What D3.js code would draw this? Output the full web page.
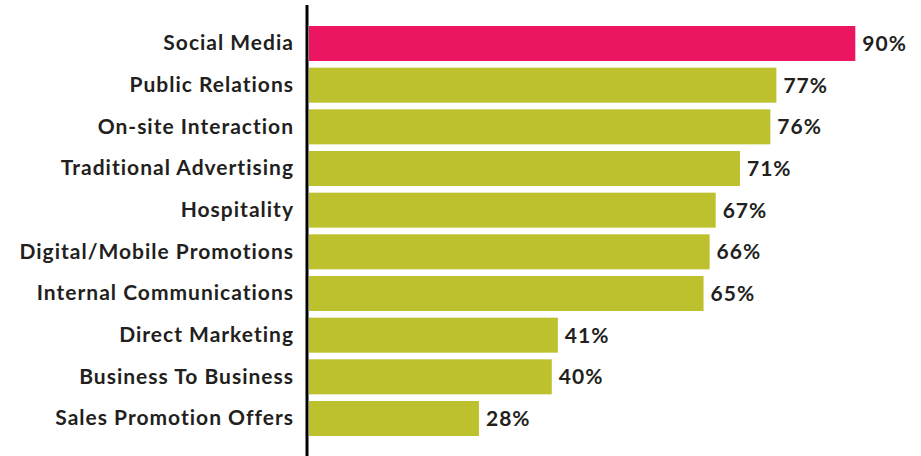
<!DOCTYPE html>
<html>
<head>
<meta charset="utf-8">
<script src="https://cdn.jsdelivr.net/npm/d3@7"></script>
<style>
  html, body { margin: 0; padding: 0; background: #ffffff; }
  svg { display: block; }
  text { font-family: Lato, "Open Sans", sans-serif; font-weight: 700; fill: #231f20; letter-spacing: 1px; }
</style>
</head>
<body>
<svg id="chart" width="921" height="456"></svg>
<script>
// Channels and the share of respondents using each
const categories = [
  "Social Media",
  "Public Relations",
  "On-site Interaction",
  "Traditional Advertising",
  "Hospitality",
  "Digital/Mobile Promotions",
  "Internal Communications",
  "Direct Marketing",
  "Business To Business",
  "Sales Promotion Offers"
];
const values = [90, 77, 76, 71, 67, 66, 65, 41, 40, 28];
const highlighted = ["Social Media"];

const W = 921, H = 456;
const axisX = 307;
const svg = d3.select("#chart");

const x = d3.scaleLinear().domain([0, 100]).range([309, 916]);
const y = d3.scaleBand()
  .domain(categories)
  .range([26, 436])
  .paddingInner(0.16)
  .paddingOuter(0);

const rows = categories.map((c, i) => ({ cat: c, val: values[i] }));

// Bars
svg.append("g").selectAll("rect")
  .data(rows)
  .join("rect")
  .attr("x", x(0))
  .attr("y", d => y(d.cat))
  .attr("width", d => x(d.val) - x(0))
  .attr("height", y.bandwidth())
  .attr("fill", d => highlighted.includes(d.cat) ? "#ec1562" : "#bec12e");

// Value labels
svg.append("g").selectAll("text")
  .data(rows)
  .join("text")
  .attr("x", d => x(d.val) + 7)
  .attr("y", d => y(d.cat) + y.bandwidth() / 2)
  .attr("dy", "0.36em")
  .attr("font-size", 21)
  .text(d => d.val + "%");

// Category axis
const yAxis = d3.axisLeft(y).tickSize(0).tickPadding(13);
const gAxis = svg.append("g")
  .attr("transform", `translate(${axisX},0)`)
  .call(yAxis);
gAxis.select(".domain").remove();
gAxis.selectAll("text")
  .attr("font-size", 21)
  .style("font-family", "Lato, 'Open Sans', sans-serif")
  .style("font-weight", 700)
  .style("letter-spacing", "1px")
  .attr("fill", "#231f20");

// Vertical baseline
svg.append("line")
  .attr("x1", axisX).attr("x2", axisX)
  .attr("y1", 5).attr("y2", H)
  .attr("stroke", "#000")
  .attr("stroke-width", 3);
</script>
</body>
</html>
